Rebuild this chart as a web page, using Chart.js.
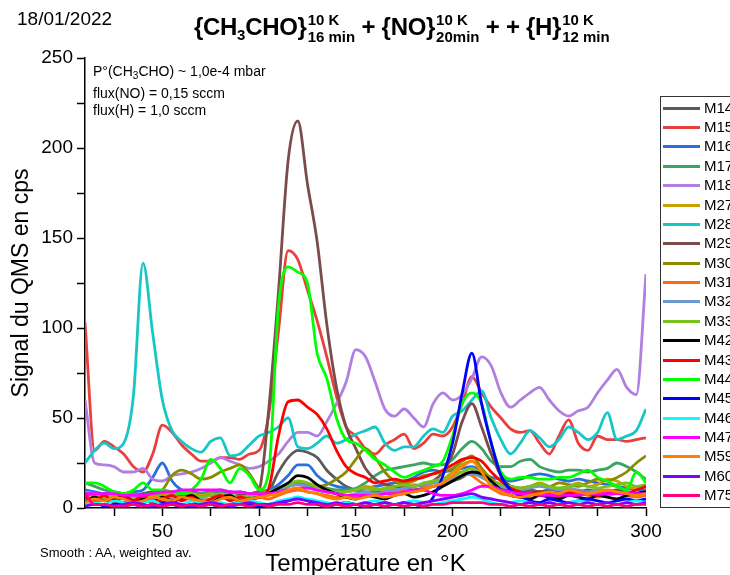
<!DOCTYPE html>
<html>
<head>
<meta charset="utf-8">
<script src="https://cdn.jsdelivr.net/npm/chart.js@4.4.0/dist/chart.umd.min.js"></script>
<style>
  body { margin: 0; background: #fff; overflow: hidden; font-family: "Liberation Sans", Arial, sans-serif; color: #000; }
  #wrap { position: relative; width: 730px; height: 575px; overflow: hidden; }
  #chart { position: absolute; left: 0; top: 0; }
  #date { position: absolute; left: 17px; top: 8px; font-size: 19px; }
  #title { position: absolute; left: 194px; top: 11px; font-size: 24px; font-weight: bold; white-space: nowrap; line-height: 30px; letter-spacing: -0.3px; }
  #title .scr { display: inline-flex; flex-direction: column; font-size: 15px; line-height: 17px; vertical-align: 10px; margin-left: 1px; letter-spacing: 0; }
  #title .sub3 { font-size: 15px; vertical-align: -5px; }
  #note { position: absolute; left: 93px; top: 63px; font-size: 14px; line-height: 17.5px; }
  #note sub { font-size: 10px; vertical-align: -3px; }
  #smooth { position: absolute; left: 40px; top: 545px; font-size: 13px; }
  #legend { position: absolute; left: 660px; top: 96px; width: 100px; height: 410px; border: 1px solid #333; }
  .item { position: absolute; left: 0; height: 18px; }
  .item .ln { position: absolute; left: 2px; top: 8px; width: 37px; height: 3px; }
  .item .tx { position: absolute; left: 43px; top: 0; font-size: 15px; line-height: 18px; }
</style>
</head>
<body>
<div id="wrap">
  <canvas id="chart" width="730" height="575"></canvas>
  <div id="date">18/01/2022</div>
  <div id="title">{CH<span class="sub3">3</span>CHO}<span class="scr"><span>10 K</span><span>16 min</span></span> + {NO}<span class="scr"><span>10 K</span><span>20min</span></span> + + {H}<span class="scr"><span>10 K</span><span>12 min</span></span></div>
  <div id="note">P°(CH<sub>3</sub>CHO) ~ 1,0e-4 mbar<br>flux(NO) = 0,15 sccm<br>flux(H) = 1,0 sccm</div>
  <div id="smooth">Smooth : AA, weighted av.</div>
  <div id="legend"></div>
</div>
<script>
// temperature grid (K)
const temps = [10,15,20,25,30,35,40,45,50,55,60,65,70,75,80,85,90,95,100,105,
  110,115,120,125,130,135,140,145,150,155,160,165,170,175,180,185,190,195,200,205,
  210,215,220,225,230,235,240,245,250,255,260,265,270,275,280,285,290,295,300];

const xTicks = [25,50,75,100,125,150,175,200,225,250,275,300];
const yTicks = [0,25,50,75,100,125,150,175,200,225,250];

// QMS signal (cps), one array per mass
const m14 = [8,7,8,7,8,7,8,9,8,9, 8,9,8,9,8,9,8,8,9,10, 20,28,32,31,28,21,16,12,10,9, 9,10,9,10,10,11,12,13,15,17, 20,18,14,11,10,9,10,9,10,9, 10,9,10,9,9,10,9,8,10];
const m15 = [103,32,37,34,30,23,20,30,46,42, 35,30,26,26,28,28,27,30,32,52, 98,143,138,121,104,84,62,45,40,33, 30,35,38,41,33,36,41,40,45,58, 73,64,56,50,44,42,43,36,30,40, 49,36,32,40,38,38,37,38,39];
const m16 = [10,9,8,9,8,9,10,17,25,15, 10,9,8,8,9,8,9,8,9,10, 13,18,24,24,18,14,12,11,10,11, 12,13,14,15,17,20,21,20,21,22, 23,20,17,16,15,16,18,19,18,16, 15,16,15,14,13,12,11,10,10];
const m17 = [14,12,10,9,8,8,7,8,8,9, 8,8,8,9,10,9,8,8,8,9, 10,12,14,13,12,11,10,10,11,14, 18,21,22,23,24,25,24,24,27,33, 37,33,26,23,23,26,27,23,21,20, 21,21,20,21,22,25,23,20,16];
const m18 = [60,25,24,23,20,20,22,16,15,18, 19,20,22,25,28,26,24,22,23,26, 30,37,42,42,40,48,58,70,88,84, 70,55,51,55,50,45,58,64,60,63, 72,84,79,64,56,60,64,67,60,54, 51,54,56,64,71,77,67,63,130];
const m27 = [5,6,5,6,7,6,5,6,7,8, 9,8,7,8,7,6,7,8,8,9, 10,12,13,12,10,9,8,9,10,12, 11,10,11,12,13,12,14,16,20,24, 26,22,16,13,12,11,12,14,12,11, 12,14,12,13,16,15,12,11,12];
const m28 = [25,32,36,33,36,62,136,97,60,43, 37,33,31,37,39,29,30,35,40,42, 45,50,34,33,36,40,36,38,41,43, 45,36,32,34,34,40,44,42,51,54, 60,65,50,38,30,36,43,39,34,38, 45,42,38,42,53,38,40,43,55];
const m29 = [6,5,6,5,6,5,6,5,6,6, 7,6,6,7,6,6,7,7,10,55, 120,193,215,180,148,102,67,45,33,22, 16,13,12,11,12,13,15,20,30,48, 58,45,30,18,12,10,9,9,8,8, 9,8,8,9,8,8,9,8,9];
const m30 = [8,7,6,6,7,6,7,8,10,18, 21,19,16,17,20,22,24,19,11,9, 10,12,14,13,12,13,16,20,27,33, 28,20,15,14,15,18,19,20,22,26, 29,22,16,13,12,11,12,13,12,14, 13,12,14,16,15,17,20,25,29];
const m31 = [4,3,5,4,3,4,5,4,3,5, 6,5,4,5,6,5,4,5,6,5, 7,9,10,9,8,7,6,6,7,8, 7,8,9,10,9,11,12,14,17,20, 18,14,11,8,7,6,7,8,7,6, 7,8,7,6,7,8,7,6,7];
const m32 = [9,8,7,6,5,6,5,6,5,6, 5,6,5,4,5,6,5,6,7,8, 10,12,13,12,10,9,8,7,8,9, 8,9,10,11,12,13,14,15,16,18, 19,17,14,12,11,10,11,12,11,10, 11,10,9,10,9,8,9,8,8];
const m33 = [6,5,6,7,6,5,6,7,6,7, 8,7,6,7,8,7,6,7,8,9, 11,13,15,14,12,10,9,9,10,11, 10,11,12,13,12,14,15,16,18,20, 22,19,15,13,12,11,12,13,12,11, 12,13,12,11,12,13,14,12,13];
const m42 = [3,6,4,5,7,4,5,3,6,4, 5,7,4,3,6,7,4,5,6,8, 11,14,18,17,13,10,8,6,5,7, 6,5,7,8,6,7,9,12,15,18, 20,19,15,10,7,6,5,7,6,5, 7,6,5,7,6,5,7,8,9];
const m43 = [6,4,7,3,6,4,7,3,5,7, 4,6,3,5,7,4,6,5,6,11, 40,59,60,56,52,44,32,23,19,17, 14,15,16,15,16,17,19,21,24,27, 28,26,20,15,11,9,8,9,8,7, 8,9,8,7,8,9,8,10,12];
const m44 = [14,14,12,9,8,10,14,10,10,9, 8,10,16,27,22,14,22,18,10,20, 112,134,131,125,86,72,50,38,36,32, 27,24,20,17,19,21,23,26,40,58, 64,58,36,20,16,17,17,16,16,17, 17,19,21,17,15,12,10,20,14];
const m45 = [2,3,1,2,3,2,1,2,3,2, 1,2,3,2,1,2,3,2,1,2, 3,4,6,4,2,1,2,3,2,1, 2,3,2,3,2,1,6,18,36,64, 86,58,36,18,10,7,4,3,5,4, 3,4,5,4,3,4,5,4,5];
const m46 = [2,3,2,4,3,2,3,4,2,3, 2,4,3,2,3,2,3,4,3,2, 4,5,6,5,4,3,2,3,2,3, 4,3,2,3,4,3,2,3,4,5, 6,5,3,2,3,4,3,2,3,2, 3,4,3,2,3,2,3,4,3];
const m47 = [8,8,8,8,7,7,7,8,9,9, 10,10,10,10,10,9,9,8,8,8, 9,10,11,11,10,9,8,7,7,7, 7,8,8,9,10,10,8,7,7,8, 10,12,12,10,9,8,8,7,7,7, 7,7,8,8,8,8,8,8,8];
const m59 = [3,5,4,6,5,3,4,6,5,4, 6,5,4,3,5,6,4,5,6,7, 8,10,11,9,8,6,5,6,5,6, 7,6,7,8,9,10,12,14,18,23, 26,20,12,9,7,6,7,8,9,8, 10,9,8,9,10,9,8,7,8];
const m60 = [1,2,2,1,2,3,2,1,2,3, 2,1,2,3,2,1,2,3,2,2, 3,4,5,4,3,2,3,2,2,3, 2,3,2,3,2,3,4,5,6,7, 8,6,5,4,3,2,3,2,3,2, 3,2,3,2,3,2,3,2,3];
const m75 = [8,2,2,1,1,2,1,2,1,2, 1,2,1,2,1,2,2,1,2,1, 2,2,3,2,2,1,2,1,2,1, 2,1,2,1,2,1,2,2,3,3, 3,3,2,2,1,2,1,2,1,2, 1,2,1,2,1,2,1,2,2];

const massLabels = ['M14','M15','M16','M17','M18','M27','M28','M29','M30','M31','M32',
  'M33','M42','M43','M44','M45','M46','M47','M59','M60','M75'];
const massColors = ['#5a5a5a','#e8403c','#2a6fdb','#3aa463','#b07fe0','#c9a000','#17c6c6',
  '#7a4c4c','#8b8b00','#ff6a10','#6a9ad0','#79c21e','#000000','#ff0000','#00ff00',
  '#0000ff','#00ffff','#ff00ff','#ff8000','#8000ff','#ff0080'];
const series = [m14,m15,m16,m17,m18,m27,m28,m29,m30,m31,m32,m33,m42,m43,m44,m45,m46,m47,m59,m60,m75];

const datasets = series.map((vals, i) => ({
  label: massLabels[i],
  data: temps.map((t, j) => ({ x: t, y: vals[j] })),
  borderColor: massColors[i],
  borderWidth: 2.8,
  pointRadius: 0,
  cubicInterpolationMode: 'monotone',
  order: series.length - i
}));

const ctx = document.getElementById('chart').getContext('2d');
Chart.defaults.font.family = '"Liberation Sans", Arial, sans-serif';
Chart.defaults.color = '#000';

new Chart(ctx, {
  type: 'line',
  data: { datasets },
  options: {
    responsive: false,
    animation: false,
    layout: { padding: { top: 58, right: 84, left: 0, bottom: 0 } },
    plugins: { legend: { display: false }, tooltip: { enabled: false } },
    scales: {
      x: {
        type: 'linear', min: 10, max: 300,
        afterBuildTicks: s => { s.ticks = xTicks.map(v => ({ value: v })); },
        afterFit: s => { s.height = 67; },
        ticks: { autoSkip: false, maxRotation: 0, padding: 4, font: { size: 19 },
          callback: v => (v % 50 === 0 ? v : '') },
        grid: { drawOnChartArea: false, tickLength: 8, tickWidth: 1.5, color: '#000' },
        border: { color: '#000', width: 1.5 },
        title: { display: true, text: 'Température en °K', font: { size: 24 }, padding: { top: 0, bottom: -4 } }
      },
      y: {
        min: 0, max: 250,
        afterBuildTicks: s => { s.ticks = yTicks.map(v => ({ value: v })); },
        afterFit: s => { s.width = 85; },
        ticks: { autoSkip: false, padding: 4, font: { size: 19 },
          callback: v => (v % 50 === 0 ? v : '') },
        grid: { drawOnChartArea: false, tickLength: 8, tickWidth: 1.5, color: '#000' },
        border: { color: '#000', width: 1.5 },
        title: { display: true, text: 'Signal du QMS en cps', font: { size: 23 }, padding: { top: 8, bottom: 0 } }
      }
    }
  }
});

// legend box on the right (cut by the window edge like the original)
const legend = document.getElementById('legend');
massLabels.forEach((name, i) => {
  const item = document.createElement('div');
  item.className = 'item';
  item.style.top = (1.7 + i * 19.37) + 'px';
  item.innerHTML = '<div class="ln" style="background:' + massColors[i] + '"></div><div class="tx">' + name + '</div>';
  legend.appendChild(item);
});
</script>
</body>
</html>
